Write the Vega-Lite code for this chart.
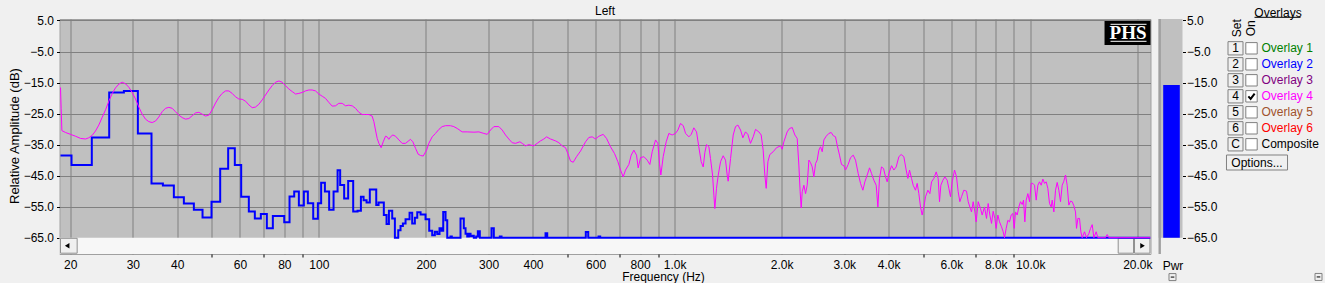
{
  "$schema": "https://vega.github.io/schema/vega-lite/v6.json",
  "background": "#f0f0f0",
  "padding": {"left": 7.5, "top": 4, "right": 0, "bottom": 0},
  "bounds": "flush",
  "spacing": 8,
  "config": {
    "font": "Liberation Sans",
    "view": {"stroke": null},
    "axis": {"labelFont": "Liberation Sans", "titleFont": "Liberation Sans", "labelColor": "#000000", "titleColor": "#000000", "titleFontWeight": "normal", "labelFontSize": 12, "titleFontSize": 12, "labelOverlap": false},
    "title": {"font": "Liberation Sans", "fontWeight": "normal", "fontSize": 12, "color": "#000000"},
    "text": {"font": "Liberation Sans", "fontSize": 12}
  },
  "datasets": {
    "live": [
      {"freq":18.78,"db":-38.5},{"freq":20.17,"db":-41.6},{"freq":23.0,"db":-32.7},{"freq":25.74,"db":-18.2},{"freq":28.31,"db":-17.7},{"freq":30.99,"db":-31.4},{"freq":33.85,"db":-47.5},{"freq":36.44,"db":-48.2},{"freq":39.12,"db":-52.0},{"freq":41.74,"db":-54.0},{"freq":44.53,"db":-56.0},{"freq":47.10,"db":-58.5},{"freq":49.92,"db":-53.4},{"freq":52.80,"db":-42.8},{"freq":55.60,"db":-36.2},{"freq":58.05,"db":-41.6},{"freq":60.49,"db":-51.8},{"freq":63.56,"db":-56.6},{"freq":66.08,"db":-58.8},{"freq":68.70,"db":-57.4},{"freq":71.42,"db":-62.0},{"freq":74.25,"db":-58.0},{"freq":79.92,"db":-60.0},{"freq":82.72,"db":-51.7},{"freq":85.26,"db":-50.1},{"freq":87.87,"db":-54.6},{"freq":90.76,"db":-50.1},{"freq":93.14,"db":-53.9},{"freq":96.42,"db":-58.9},{"freq":99.37,"db":-53.9},{"freq":101.5,"db":-47.3},{"freq":104.0,"db":-50.1},{"freq":106.9,"db":-56.0},{"freq":110.0,"db":-50.1},{"freq":112.9,"db":-43.3},{"freq":114.8,"db":-48.0},{"freq":117.8,"db":-52.4},{"freq":120.9,"db":-46.7},{"freq":124.9,"db":-56.6},{"freq":128.5,"db":-56.3},{"freq":131.3,"db":-51.8},{"freq":133.6,"db":-52.9},{"freq":136.2,"db":-53.7},{"freq":139.1,"db":-49.5},{"freq":145.0,"db":-54.5},{"freq":147.2,"db":-53.7},{"freq":152.3,"db":-57.7},{"freq":155.0,"db":-60.6},{"freq":157.4,"db":-56.3},{"freq":160.8,"db":-58.8},{"freq":163.6,"db":-65},{"freq":167.2,"db":-62.6},{"freq":169.7,"db":-61.2},{"freq":172.3,"db":-60.4},{"freq":175.3,"db":-59.1},{"freq":179.9,"db":-57.0},{"freq":183.0,"db":-60.4},{"freq":186.2,"db":-58.6},{"freq":189.1,"db":-56.8},{"freq":193.2,"db":-57.5},{"freq":199.5,"db":-59.1},{"freq":204.3,"db":-62.8},{"freq":208.3,"db":-64.2},{"freq":211.9,"db":-63.1},{"freq":215.2,"db":-63.8},{"freq":218.4,"db":-62.0},{"freq":221.3,"db":-62.8},{"freq":223.7,"db":-56.7},{"freq":227.1,"db":-59.4},{"freq":229.6,"db":-65},{"freq":234.5,"db":-64.6},{"freq":236.5,"db":-65},{"freq":250.2,"db":-58.8},{"freq":255.6,"db":-62.0},{"freq":258.5,"db":-63.7},{"freq":261.3,"db":-64.6},{"freq":264.0,"db":-63.7},{"freq":267.0,"db":-64.5},{"freq":269.9,"db":-64.4},{"freq":272.7,"db":-65},{"freq":277.0,"db":-64.6},{"freq":279.9,"db":-62.9},{"freq":283.5,"db":-65},{"freq":305.8,"db":-62.0},{"freq":310.4,"db":-65},{"freq":322.7,"db":-64.6},{"freq":326.3,"db":-65},{"freq":433.8,"db":-63.6},{"freq":438.6,"db":-65},{"freq":563.0,"db":-63.2},{"freq":571.9,"db":-65},{"freq":611.3,"db":-64.6},{"freq":618.0,"db":-65},{"freq":21780,"db":-65}
    ],
    "overlay4": [
      {"freq":18.78,"db":-16.6},{"freq":18.86,"db":-23.3},{"freq":18.95,"db":-30.5},{"freq":19.40,"db":-31.1},{"freq":20.04,"db":-31.7},{"freq":20.70,"db":-32.3},{"freq":21.38,"db":-33.0},{"freq":22.08,"db":-33.2},{"freq":22.56,"db":-32.8},{"freq":23.06,"db":-32.0},{"freq":23.56,"db":-30.6},{"freq":24.07,"db":-28.7},{"freq":24.60,"db":-26.2},{"freq":25.14,"db":-23.8},{"freq":25.68,"db":-21.0},{"freq":26.24,"db":-18.6},{"freq":26.82,"db":-16.7},{"freq":27.40,"db":-15.5},{"freq":28.00,"db":-14.9},{"freq":28.61,"db":-15.4},{"freq":29.23,"db":-16.5},{"freq":29.87,"db":-18.2},{"freq":30.52,"db":-20.3},{"freq":31.19,"db":-22.9},{"freq":31.87,"db":-25.2},{"freq":32.56,"db":-26.8},{"freq":33.27,"db":-27.6},{"freq":34.00,"db":-27.9},{"freq":34.74,"db":-27.4},{"freq":35.50,"db":-26.1},{"freq":36.27,"db":-24.4},{"freq":37.07,"db":-23.3},{"freq":37.87,"db":-23.0},{"freq":38.70,"db":-23.3},{"freq":39.54,"db":-24.4},{"freq":40.41,"db":-25.5},{"freq":41.29,"db":-26.3},{"freq":42.19,"db":-26.8},{"freq":43.11,"db":-26.6},{"freq":44.05,"db":-25.7},{"freq":45.01,"db":-24.8},{"freq":45.99,"db":-24.6},{"freq":47.00,"db":-25.2},{"freq":48.02,"db":-25.8},{"freq":49.07,"db":-25.5},{"freq":50.14,"db":-23.8},{"freq":51.23,"db":-21.6},{"freq":52.35,"db":-19.8},{"freq":53.49,"db":-18.5},{"freq":54.66,"db":-17.7},{"freq":55.85,"db":-17.7},{"freq":57.07,"db":-18.5},{"freq":58.31,"db":-19.6},{"freq":59.58,"db":-20.3},{"freq":60.89,"db":-20.4},{"freq":62.21,"db":-21.0},{"freq":63.57,"db":-22.2},{"freq":64.96,"db":-23.1},{"freq":66.37,"db":-22.9},{"freq":67.82,"db":-22.0},{"freq":69.30,"db":-20.6},{"freq":70.81,"db":-19.0},{"freq":72.36,"db":-17.4},{"freq":73.93,"db":-16.0},{"freq":75.55,"db":-14.9},{"freq":77.20,"db":-14.5},{"freq":78.88,"db":-14.9},{"freq":80.60,"db":-16.0},{"freq":82.36,"db":-17.1},{"freq":84.15,"db":-17.9},{"freq":85.99,"db":-18.7},{"freq":87.87,"db":-18.5},{"freq":89.78,"db":-18.2},{"freq":91.74,"db":-17.7},{"freq":93.74,"db":-17.4},{"freq":95.79,"db":-17.4},{"freq":97.88,"db":-17.7},{"freq":100.0,"db":-18.7},{"freq":102.2,"db":-19.4},{"freq":104.4,"db":-20.1},{"freq":106.7,"db":-21.4},{"freq":109.0,"db":-22.6},{"freq":111.4,"db":-22.5},{"freq":113.8,"db":-21.7},{"freq":116.3,"db":-21.7},{"freq":118.9,"db":-22.5},{"freq":121.4,"db":-22.3},{"freq":124.1,"db":-22.5},{"freq":126.8,"db":-23.3},{"freq":129.6,"db":-24.6},{"freq":132.4,"db":-25.3},{"freq":135.3,"db":-25.3},{"freq":138.2,"db":-25.3},{"freq":141.2,"db":-25.8},{"freq":142.8,"db":-27.6},{"freq":144.3,"db":-30.3},{"freq":145.9,"db":-33.0},{"freq":147.5,"db":-34.6},{"freq":149.7,"db":-36.0},{"freq":151.7,"db":-34.1},{"freq":154.0,"db":-32.3},{"freq":155.6,"db":-32.5},{"freq":157.3,"db":-33.3},{"freq":159.0,"db":-32.5},{"freq":161.5,"db":-31.9},{"freq":164.3,"db":-32.3},{"freq":167.9,"db":-33.5},{"freq":171.5,"db":-34.6},{"freq":175.3,"db":-34.6},{"freq":178.3,"db":-33.9},{"freq":181.0,"db":-33.3},{"freq":183.8,"db":-34.1},{"freq":187.0,"db":-36.2},{"freq":190.2,"db":-38.1},{"freq":193.1,"db":-38.5},
      {"freq":196.5,"db":-38.7},{"freq":200.8,"db":-36.8},{"freq":203.8,"db":-34.6},{"freq":208.3,"db":-32.5},{"freq":212.8,"db":-31.4},{"freq":217.5,"db":-30.1},{"freq":222.2,"db":-29.2},{"freq":227.1,"db":-28.9},{"freq":234.5,"db":-28.9},{"freq":239.6,"db":-29.2},{"freq":244.9,"db":-29.8},{"freq":252.9,"db":-30.9},{"freq":261.3,"db":-30.9},{"freq":272.8,"db":-31.0},{"freq":281.7,"db":-30.9},{"freq":291.0,"db":-31.4},{"freq":297.4,"db":-31.7},{"freq":303.9,"db":-30.3},{"freq":310.5,"db":-29.2},{"freq":320.7,"db":-29.2},{"freq":327.7,"db":-30.3},{"freq":334.8,"db":-31.9},{"freq":342.1,"db":-33.2},{"freq":349.6,"db":-34.4},{"freq":357.2,"db":-34.6},{"freq":367.4,"db":-34.1},{"freq":373.0,"db":-34.6},{"freq":381.1,"db":-35.4},{"freq":389.4,"db":-35.0},{"freq":402.2,"db":-35.4},{"freq":411.0,"db":-34.6},{"freq":420.0,"db":-33.8},{"freq":429.1,"db":-33.2},{"freq":436.6,"db":-32.5},{"freq":448.1,"db":-33.2},{"freq":462.8,"db":-33.8},{"freq":472.9,"db":-34.4},{"freq":483.2,"db":-35.4},{"freq":493.8,"db":-36.0},{"freq":501.3,"db":-37.9},{"freq":510.0,"db":-40.3},{"freq":518.9,"db":-40.7},{"freq":530.2,"db":-38.9},{"freq":544.1,"db":-37.1},{"freq":562.0,"db":-34.1},{"freq":574.3,"db":-32.7},{"freq":586.8,"db":-32.5},{"freq":599.6,"db":-33.2},{"freq":612.7,"db":-32.3},{"freq":630.1,"db":-31.7},{"freq":643.8,"db":-33.0},{"freq":660.7,"db":-35.7},{"freq":678.1,"db":-37.9},{"freq":692.9,"db":-40.5},{"freq":704.9,"db":-43.2},{"freq":717.2,"db":-45.4},{"freq":728.1,"db":-43.2},{"freq":744.0,"db":-41.4},{"freq":755.3,"db":-38.4},{"freq":768.5,"db":-36.8},{"freq":781.8,"db":-38.4},{"freq":790.3,"db":-42.5},{"freq":802.4,"db":-39.2},{"freq":819.9,"db":-38.9},{"freq":837.7,"db":-40.0},{"freq":852.3,"db":-41.4},{"freq":865.3,"db":-37.3},{"freq":884.2,"db":-33.5},{"freq":897.6,"db":-34.6},{"freq":907.4,"db":-41.1},{"freq":915.2,"db":-44.8},{"freq":929.2,"db":-38.9},{"freq":947.4,"db":-34.1},{"freq":963.9,"db":-31.4},{"freq":984.9,"db":-31.9},{"freq":1006,"db":-31.4},{"freq":1022,"db":-30.3},{"freq":1039,"db":-28.2},{"freq":1058,"db":-28.9},{"freq":1074,"db":-31.4},{"freq":1097,"db":-32.5},{"freq":1114,"db":-31.7},{"freq":1133,"db":-29.6},{"freq":1153,"db":-30.9},{"freq":1170,"db":-35.7},{"freq":1188,"db":-40.5},{"freq":1204,"db":-42.2},{"freq":1217,"db":-37.5},{"freq":1230,"db":-35.0},{"freq":1249,"db":-35.7},{"freq":1262,"db":-39.5},{"freq":1279,"db":-44.8},{"freq":1290,"db":-51.3},{"freq":1298,"db":-55.6},{"freq":1312,"db":-49.1},{"freq":1327,"db":-44.8},{"freq":1347,"db":-40.5},{"freq":1370,"db":-38.6},{"freq":1391,"db":-40.0},{"freq":1406,"db":-44.8},{"freq":1415,"db":-46.8},{"freq":1437,"db":-39.5},{"freq":1462,"db":-31.9},{"freq":1484,"db":-29.2},{"freq":1507,"db":-28.7},{"freq":1533,"db":-30.3},{"freq":1556,"db":-32.8},{"freq":1583,"db":-30.9},{"freq":1607,"db":-31.7},{"freq":1635,"db":-34.6},{"freq":1664,"db":-32.5},{"freq":1689,"db":-30.1},{"freq":1726,"db":-30.9},{"freq":1752,"db":-31.9},{"freq":1775,"db":-36.8},{"freq":1794,"db":-44.8},{"freq":1810,"db":-49.1},{"freq":1830,"db":-40.5},{"freq":1853,"db":-38.2},{"freq":1894,"db":-37.3},{"freq":1935,"db":-36.0},{"freq":1986,"db":-35.4},{"freq":2007,"db":-36.5},{"freq":2029,"db":-34.1},{"freq":2051,"db":-32.5},
      {"freq":2073,"db":-30.9},{"freq":2105,"db":-29.8},{"freq":2142,"db":-29.5},{"freq":2179,"db":-31.9},{"freq":2212,"db":-33.0},{"freq":2236,"db":-41.6},{"freq":2255,"db":-50.2},{"freq":2270,"db":-55.4},{"freq":2285,"db":-50.2},{"freq":2310,"db":-48.1},{"freq":2335,"db":-50.8},{"freq":2360,"db":-48.1},{"freq":2386,"db":-40.0},{"freq":2411,"db":-40.8},{"freq":2438,"db":-42.2},{"freq":2464,"db":-45.4},{"freq":2491,"db":-41.1},{"freq":2518,"db":-40.0},{"freq":2545,"db":-36.8},{"freq":2573,"db":-35.7},{"freq":2601,"db":-37.3},{"freq":2629,"db":-33.5},{"freq":2669,"db":-32.3},{"freq":2715,"db":-31.4},{"freq":2757,"db":-31.1},{"freq":2793,"db":-32.1},{"freq":2835,"db":-32.5},{"freq":2866,"db":-35.2},{"freq":2909,"db":-38.4},{"freq":2947,"db":-41.4},{"freq":2992,"db":-41.8},{"freq":3025,"db":-43.2},{"freq":3077,"db":-41.4},{"freq":3124,"db":-39.2},{"freq":3179,"db":-38.4},{"freq":3227,"db":-40.0},{"freq":3283,"db":-44.3},{"freq":3333,"db":-47.5},{"freq":3384,"db":-49.7},{"freq":3428,"db":-47.0},{"freq":3480,"db":-44.8},{"freq":3533,"db":-42.5},{"freq":3579,"db":-44.3},{"freq":3634,"db":-46.5},{"freq":3689,"db":-48.1},{"freq":3729,"db":-55.1},{"freq":3769,"db":-45.9},{"freq":3818,"db":-42.2},{"freq":3868,"db":-42.7},{"freq":3919,"db":-45.4},{"freq":3961,"db":-47.0},{"freq":4004,"db":-44.3},{"freq":4074,"db":-41.8},{"freq":4136,"db":-43.2},{"freq":4199,"db":-42.2},{"freq":4272,"db":-38.9},{"freq":4337,"db":-38.2},{"freq":4412,"db":-38.9},{"freq":4479,"db":-43.2},{"freq":4528,"db":-45.9},{"freq":4577,"db":-43.2},{"freq":4637,"db":-45.9},{"freq":4687,"db":-48.1},{"freq":4758,"db":-49.7},{"freq":4810,"db":-47.5},{"freq":4862,"db":-50.8},{"freq":4915,"db":-55.1},{"freq":4968,"db":-57.7},{"freq":5022,"db":-55.1},{"freq":5077,"db":-51.8},{"freq":5154,"db":-49.7},{"freq":5221,"db":-50.8},{"freq":5278,"db":-47.0},{"freq":5358,"db":-45.9},{"freq":5440,"db":-43.8},{"freq":5510,"db":-45.9},{"freq":5558,"db":-53.4},{"freq":5606,"db":-48.1},{"freq":5680,"db":-46.5},{"freq":5753,"db":-45.4},{"freq":5841,"db":-46.5},{"freq":5904,"db":-49.1},{"freq":5968,"db":-51.8},{"freq":6033,"db":-47.0},{"freq":6125,"db":-43.2},{"freq":6205,"db":-45.4},{"freq":6272,"db":-50.2},{"freq":6340,"db":-53.4},{"freq":6409,"db":-51.8},{"freq":6506,"db":-49.7},{"freq":6620,"db":-50.0},{"freq":6692,"db":-53.4},{"freq":6764,"db":-55.1},{"freq":6837,"db":-56.7},{"freq":6912,"db":-53.4},{"freq":6987,"db":-56.7},{"freq":7047,"db":-59.9},{"freq":7139,"db":-53.4},{"freq":7248,"db":-55.6},{"freq":7326,"db":-57.7},{"freq":7438,"db":-55.1},{"freq":7535,"db":-58.8},{"freq":7616,"db":-54.0},{"freq":7699,"db":-57.7},{"freq":7783,"db":-60.4},{"freq":7867,"db":-56.5},{"freq":7952,"db":-58.8},{"freq":8021,"db":-62.0},{"freq":8108,"db":-57.7},{"freq":8196,"db":-59.9},{"freq":8303,"db":-61.5},{"freq":8393,"db":-63.1},{"freq":8466,"db":-65.0},{"freq":8558,"db":-62.0},{"freq":8650,"db":-59.4},{"freq":8744,"db":-59.9},{"freq":8839,"db":-57.7},{"freq":8935,"db":-57.2},{"freq":9013,"db":-62.0},{"freq":9091,"db":-56.7},{"freq":9189,"db":-57.7},{"freq":9289,"db":-55.1},{"freq":9390,"db":-53.4},{"freq":9492,"db":-54.3},{"freq":9574,"db":-52.9},{"freq":9657,"db":-59.9},{"freq":9741,"db":-52.9},{"freq":9846,"db":-50.8},{"freq":9953,"db":-53.4},{"freq":10061,"db":-47.5},{"freq":10170,"db":-47.5},{"freq":10281,"db":-48.1},{"freq":10392,"db":-52.9},{"freq":10505,"db":-48.1},{"freq":10619,"db":-47.0},{"freq":10734,"db":-48.1},{"freq":10850,"db":-46.1},{"freq":10968,"db":-47.5},{"freq":11087,"db":-47.0},{"freq":11207,"db":-49.1},{"freq":11329,"db":-54.0},{"freq":11452,"db":-55.1},{"freq":11526,"db":-52.9},{"freq":11651,"db":-56.7},{"freq":11777,"db":-49.7},{"freq":11905,"db":-47.2},{"freq":12034,"db":-49.7},{"freq":12165,"db":-53.4},{"freq":12296,"db":-48.1},{"freq":12430,"db":-46.8},{"freq":12565,"db":-44.8},{"freq":12701,"db":-48.1},{"freq":12839,"db":-54.5},{"freq":12978,"db":-53.2},{"freq":13119,"db":-53.4},{"freq":13261,"db":-54.7},{"freq":13405,"db":-56.7},{"freq":13492,"db":-62.0},{"freq":13609,"db":-58.8},{"freq":13756,"db":-58.8},{"freq":13876,"db":-63.1},{"freq":13996,"db":-65.0},{"freq":14209,"db":-63.1},{"freq":14394,"db":-65.0},{"freq":14614,"db":-63.7},{"freq":14773,"db":-62.0},{"freq":14933,"db":-60.8},{"freq":15095,"db":-65.0},{"freq":15325,"db":-63.1},{"freq":15491,"db":-65.0},{"freq":16279,"db":-65.0},{"freq":16455,"db":-64.0},{"freq":16634,"db":-65.0},{"freq":21780,"db":-65.0}
    ],
    "overlays": [
      {"set":"1","label":"Overlay 1","row":1,"on":false},
      {"set":"2","label":"Overlay 2","row":2,"on":false},
      {"set":"3","label":"Overlay 3","row":3,"on":false},
      {"set":"4","label":"Overlay 4","row":4,"on":true},
      {"set":"5","label":"Overlay 5","row":5,"on":false},
      {"set":"6","label":"Overlay 6","row":6,"on":false},
      {"set":"C","label":"Composite","row":7,"on":false}
    ],
    "pwr": [{"meter":"Pwr","level":-15.8}],
    "ui": [{"part":"widget"}]
  },
  "hconcat": [
    {
      "width": 1091,
      "height": 235,
      "view": {"fill": "#c0c0c0", "stroke": "#a0a0a0", "strokeWidth": 1},
      "title": {"text": "Left", "offset": -13, "frame": "group", "baseline": "alphabetic", "anchor": "middle"},
      "layer": [
        {
          "data": {"name": "ui"},
          "mark": {"type": "rect", "fill": "#f7f7f7"},
          "encoding": {"x": {"datum": 18.66}, "x2": {"datum": 21780}, "y": {"datum": -65}, "y2": {"datum": -70.26}}
        },
        {
          "data": {"name": "ui"},
          "mark": {"type": "rect", "fill": "#f0f0f0", "stroke": "#909090", "strokeWidth": 1},
          "encoding": {"x": {"datum": 18.78}, "x2": {"datum": 20.92}, "y": {"datum": -65.2}, "y2": {"datum": -70.0}}
        },
        {
          "data": {"name": "ui"},
          "mark": {"type": "rect", "fill": "#f0f0f0", "stroke": "#909090", "strokeWidth": 1},
          "encoding": {"x": {"datum": 17670}, "x2": {"datum": 19513}, "y": {"datum": -65.2}, "y2": {"datum": -70.0}}
        },
        {
          "data": {"name": "ui"},
          "mark": {"type": "rect", "fill": "#f0f0f0", "stroke": "#909090", "strokeWidth": 1},
          "encoding": {"x": {"datum": 19640}, "x2": {"datum": 21700}, "y": {"datum": -65.2}, "y2": {"datum": -70.0}}
        },
        {
          "data": {"name": "ui"},
          "mark": {"type": "point", "shape": "triangle-left", "filled": true, "color": "#000000", "size": 28, "opacity": 1},
          "encoding": {"x": {"datum": 19.61}, "y": {"datum": -67.6}}
        },
        {
          "data": {"name": "ui"},
          "mark": {"type": "point", "shape": "triangle-right", "filled": true, "color": "#000000", "size": 28, "opacity": 1},
          "encoding": {"x": {"datum": 20684}, "y": {"datum": -67.6}}
        },
        {
          "data": {"name": "ui"},
          "mark": {"type": "rect", "fill": "#000000"},
          "encoding": {"x": {"datum": 16174}, "x2": {"datum": 21780}, "y": {"datum": 4.84}, "y2": {"datum": -2.9}}
        },
        {
          "data": {"name": "ui"},
          "mark": {"type": "rule", "color": "#ffffff", "strokeWidth": 1},
          "encoding": {"x": {"datum": 16814}, "x2": {"datum": 21227}, "y": {"datum": 3.77}}
        },
        {
          "data": {"name": "ui"},
          "mark": {"type": "rule", "color": "#ffffff", "strokeWidth": 1},
          "encoding": {"x": {"datum": 16814}, "x2": {"datum": 21227}, "y": {"datum": -1.71}}
        },
        {
          "data": {"name": "ui"},
          "mark": {"type": "text", "text": "PHS", "font": "Liberation Serif", "fontWeight": "bold", "fontSize": 19, "color": "#ffffff", "align": "center", "baseline": "alphabetic"},
          "encoding": {"x": {"datum": 18831}, "y": {"datum": -1.06}}
        },
        {
          "data": {"name": "live"},
          "mark": {"type": "line", "color": "#0000ff", "strokeWidth": 2, "interpolate": "step-after", "clip": true},
          "encoding": {
            "x": {
              "field": "freq", "type": "quantitative",
              "scale": {"type": "log", "domain": [18.66, 21780], "nice": false},
              "axis": {
                "title": "Frequency (Hz)",
                "titleX": 603.5, "titleY": 26, "titleBaseline": "alphabetic", "titleAlign": "center", "titleFontSize": 12,
                "values": [20,30,40,50,60,70,80,90,100,200,300,400,500,600,700,800,900,1000,2000,3000,4000,5000,6000,7000,8000,9000,10000,20000],
                "tickCount": 40,
                "labelExpr": "indexof([50,70,90,500,700,900,5000,7000,9000], datum.value) >= 0 ? '' : (datum.value >= 1000 ? format(datum.value / 1000, '.1f') + 'k' : format(datum.value, 'd'))",
                "labelOverlap": false, "labelFlush": false, "labelFontSize": 12, "labelPadding": 2,
                "tickSize": 3,
                "tickColor": {"condition": {"test": "indexof([50,70,90,500,700,900,5000,7000,9000], datum.value) >= 0", "value": "#000000"}, "value": "transparent"},
                "domain": false,
                "grid": true, "gridColor": "#808080", "gridOpacity": 1, "gridWidth": 1
              }
            },
            "y": {
              "field": "db", "type": "quantitative",
              "scale": {"domain": [-70.26, 5.48], "nice": false, "zero": false},
              "axis": {
                "title": "Relative Amplitude (dB)",
                "titleFontSize": 13, "titleX": -45, "titleY": 116.5, "titleAngle": 270, "titleBaseline": "middle", "titleAlign": "center",
                "values": [5,-5,-15,-25,-35,-45,-55,-65],
                "tickCount": 12,
                "format": ".1f", "labelFontSize": 12, "labelPadding": 3, "labelOverlap": false, "labelFlush": false,
                "tickSize": 3, "tickColor": "#000000",
                "domain": false,
                "grid": true, "gridColor": "#808080", "gridOpacity": 1, "gridWidth": 1
              }
            }
          }
        },
        {
          "data": {"name": "overlay4"},
          "mark": {"type": "line", "color": "#ff00ff", "strokeWidth": 1, "clip": true},
          "encoding": {
            "x": {"field": "freq", "type": "quantitative"},
            "y": {"field": "db", "type": "quantitative"}
          }
        }
      ]
    },
    {
      "width": 24,
      "height": 235,
      "layer": [
        {
          "data": {"name": "ui"},
          "mark": {"type": "rect", "fill": "#c0c0c0"},
          "encoding": {
            "x": {"datum": 0, "type": "quantitative", "scale": {"domain": [0, 1], "nice": false},
              "axis": {"title": "Pwr", "labels": false, "ticks": false, "domain": false, "grid": false, "titleX": 14, "titleY": 15, "titleBaseline": "alphabetic", "titleAlign": "center", "titleFontSize": 12}},
            "x2": {"datum": 1},
            "y": {"datum": 5.48, "type": "quantitative", "scale": {"domain": [-70.26, 5.48], "nice": false, "zero": false},
              "axis": {"orient": "right", "title": null, "values": [5,-5,-15,-25,-35,-45,-55,-65], "tickCount": 12, "format": ".1f", "labelFontSize": 12, "labelPadding": 1, "labelOverlap": false, "labelFlush": false, "tickSize": 3, "tickColor": "#000000", "domain": false, "grid": false}},
            "y2": {"datum": -65}
          }
        },
        {
          "data": {"name": "ui"},
          "mark": {"type": "rect", "fill": "#a0a0a0"},
          "encoding": {"x": {"datum": 0}, "x2": {"datum": 0.1}, "y": {"datum": 5.48}, "y2": {"datum": -70.26}}
        },
        {
          "data": {"name": "pwr"},
          "mark": {"type": "rect", "fill": "#0000ff"},
          "encoding": {"x": {"datum": 0.196}, "x2": {"datum": 0.8875}, "y": {"field": "level", "type": "quantitative"}, "y2": {"datum": -65}}
        },
        {
          "data": {"name": "ui"},
          "mark": {"type": "point", "shape": "square", "size": 49, "filled": true, "fill": "#f0f0f0", "stroke": "#808080", "strokeWidth": 1, "opacity": 1},
          "encoding": {"x": {"datum": 0.583}, "y": {"datum": -77.7}}
        },
        {
          "data": {"name": "ui"},
          "mark": {"type": "rule", "color": "#000000", "strokeWidth": 1},
          "encoding": {"x": {"datum": 0.51}, "x2": {"datum": 0.66}, "y": {"datum": -77.7}}
        }
      ]
    },
    {
      "width": 135,
      "height": 235,
      "layer": [
        {
          "data": {"name": "ui"},
          "mark": {"type": "text", "text": "Overlays", "align": "center", "baseline": "middle", "fontSize": 12, "color": "#000000"},
          "encoding": {
            "x": {"datum": 87.5, "type": "quantitative", "scale": {"domain": [0, 135], "nice": false, "zero": false}, "axis": null},
            "y": {"datum": -1.2375, "type": "quantitative", "scale": {"domain": [-0.83125, 13.85625], "nice": false, "zero": false, "reverse": true}, "axis": null}
          }
        },
        {
          "data": {"name": "ui"},
          "mark": {"type": "rule", "color": "#000000", "strokeWidth": 1},
          "encoding": {"x": {"datum": 64}, "x2": {"datum": 110}, "y": {"datum": -0.9375}}
        },
        {
          "data": {"name": "ui"},
          "mark": {"type": "text", "text": "Set", "angle": 270, "align": "center", "baseline": "middle", "fontSize": 12, "color": "#000000"},
          "encoding": {"x": {"datum": 46}, "y": {"datum": -0.25}}
        },
        {
          "data": {"name": "ui"},
          "mark": {"type": "text", "text": "On", "angle": 270, "align": "center", "baseline": "middle", "fontSize": 12, "color": "#000000"},
          "encoding": {"x": {"datum": 60.5}, "y": {"datum": -0.25}}
        },
        {
          "data": {"name": "overlays"},
          "mark": {"type": "point", "shape": "M-1.07,-0.95H1.07V0.95H-1.07Z", "size": 196, "filled": true, "fill": "#f0f0f0", "stroke": "#808080", "strokeWidth": 1, "opacity": 1},
          "encoding": {"x": {"datum": 45}, "y": {"field": "row", "type": "quantitative"}}
        },
        {
          "data": {"name": "overlays"},
          "mark": {"type": "text", "align": "center", "baseline": "middle", "fontSize": 12, "color": "#000000"},
          "encoding": {"x": {"datum": 45}, "y": {"field": "row", "type": "quantitative"}, "text": {"field": "set"}}
        },
        {
          "data": {"name": "overlays"},
          "mark": {"type": "point", "shape": "square", "size": 130, "filled": true, "fill": "#ffffff", "stroke": "#808080", "strokeWidth": 1, "opacity": 1},
          "encoding": {"x": {"datum": 61}, "y": {"field": "row", "type": "quantitative"}}
        },
        {
          "data": {"name": "overlays"},
          "transform": [{"filter": "datum.on"}],
          "mark": {"type": "point", "shape": "M-0.55,0L-0.15,0.45L0.55,-0.45", "size": 130, "filled": false, "stroke": "#000000", "strokeWidth": 2, "opacity": 1},
          "encoding": {"x": {"datum": 61}, "y": {"field": "row", "type": "quantitative"}}
        },
        {
          "data": {"name": "overlays"},
          "mark": {"type": "text", "align": "left", "baseline": "middle", "fontSize": 12},
          "encoding": {
            "x": {"datum": 71},
            "y": {"field": "row", "type": "quantitative"},
            "text": {"field": "label"},
            "color": {"field": "label", "type": "nominal", "legend": null,
              "scale": {"domain": ["Overlay 1","Overlay 2","Overlay 3","Overlay 4","Overlay 5","Overlay 6","Composite"],
                        "range": ["#008000","#0000ff","#800080","#ff00ff","#a0522d","#ff0000","#000000"]}}
          }
        },
        {
          "data": {"name": "ui"},
          "mark": {"type": "point", "shape": "M-4.07,-1H4.07V1H-4.07Z", "size": 225, "filled": true, "fill": "#f0f0f0", "stroke": "#808080", "strokeWidth": 1, "opacity": 1},
          "encoding": {"x": {"datum": 66.5}, "y": {"datum": 8.1375}}
        },
        {
          "data": {"name": "ui"},
          "mark": {"type": "text", "text": "Options...", "align": "center", "baseline": "middle", "fontSize": 12, "color": "#000000"},
          "encoding": {"x": {"datum": 66.5}, "y": {"datum": 8.1375}}
        },
        {
          "data": {"name": "ui"},
          "mark": {"type": "point", "shape": "square", "size": 49, "filled": true, "fill": "#f0f0f0", "stroke": "#808080", "strokeWidth": 1, "opacity": 1},
          "encoding": {"x": {"datum": 128}, "y": {"datum": 15.29}}
        },
        {
          "data": {"name": "ui"},
          "mark": {"type": "rule", "color": "#000000", "strokeWidth": 1},
          "encoding": {"x": {"datum": 126.2}, "x2": {"datum": 129.8}, "y": {"datum": 15.29}}
        }
      ]
    }
  ]
}
